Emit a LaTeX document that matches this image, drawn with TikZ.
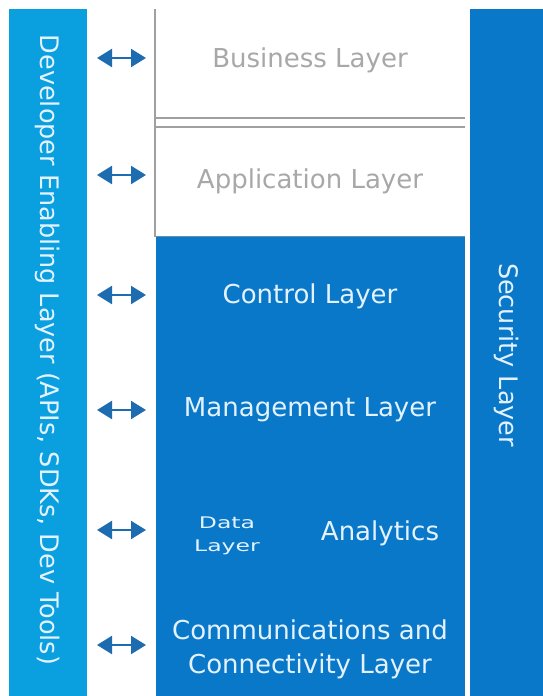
\documentclass[tikz,border=0pt]{standalone}
\usepackage{fontspec}
\setmainfont{DejaVu Sans}
\usetikzlibrary{arrows.meta}
\definecolor{lightbar}{HTML}{0AA0E0}
\definecolor{darkbar}{HTML}{0A78C8}
\definecolor{arrowblue}{HTML}{1E6CB0}
\definecolor{graytxt}{HTML}{A8A8A8}
\definecolor{grayline}{HTML}{A0A0A0}
\definecolor{paletxt}{HTML}{E4F2FF}
\tikzset{
  x=1pt, y=-1pt,
  lighttxt/.style={text=paletxt, font=\fontsize{26}{31}\selectfont, align=center},
  greytxt/.style={text=graytxt, font=\fontsize{26}{31}\selectfont},
  sidetxt/.style={text=paletxt, font=\fontsize{25.5}{30}\selectfont, rotate=-90},
  linkarrow/.style={{Triangle[length=15pt,width=18pt]}-{Triangle[length=15pt,width=18pt]}, draw=arrowblue, line width=2.2pt},
}
\begin{document}
\begin{tikzpicture}
\useasboundingbox (0,0) rectangle (543,696);
\fill[white] (0,0) rectangle (543,696);
% left bar
\fill[lightbar] (9,9) rectangle (87,696);
\node[sidetxt] (dev) at (48,350) {Developer Enabling Layer (APIs, SDKs, Dev Tools)};
% right bar
\fill[darkbar] (470,9) rectangle (543,696);
\node[sidetxt] (sec) at (507,355) {Security Layer};
% white boxes
\draw[grayline, line width=2pt] (155,9) -- (155,237);
\draw[grayline, line width=1.8pt] (156,118) -- (465,118);
\draw[grayline, line width=1.8pt] (156,127) -- (465,127);
\node[greytxt] (bus) at (310,60) {Business Layer};
\node[greytxt] (app) at (310,181) {Application Layer};
% blue block
\fill[darkbar] (156,236) rectangle (465,696);
\draw[grayline!60!darkbar, line width=1.5pt] (156,236.5) -- (465,236.5);
\node[lighttxt] (ctl) at (310,296) {Control Layer};
\node[lighttxt] (mgt) at (310,410) {Management Layer};
\node[lighttxt, font=\fontsize{23.5}{34}\selectfont, yscale=0.68, transform shape] (data) at (227,536) {Data\\Layer};
\node[lighttxt] (ana) at (380,533) {Analytics};
\node[lighttxt, font=\fontsize{26}{34}\selectfont] (com) at (310,649) {Communications and\\Connectivity Layer};
% arrows
\foreach \yy [count=\i] in {58,175,295,410,530,645}{
  \coordinate (l\i) at (97,\yy);
  \coordinate (r\i) at (146,\yy);
  \draw[linkarrow] (l\i) -- (r\i);
}
\end{tikzpicture}
\end{document}
